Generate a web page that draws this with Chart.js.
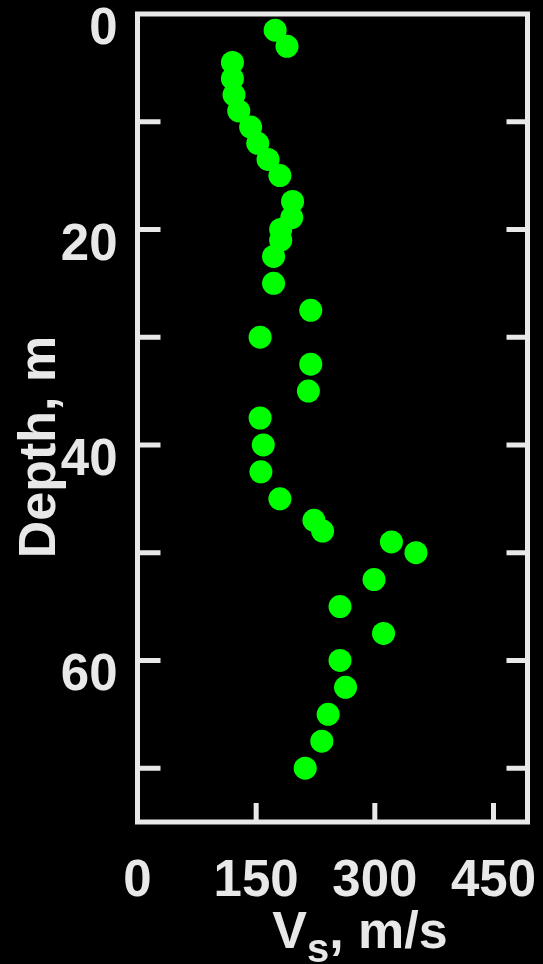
<!DOCTYPE html>
<html>
<head>
<meta charset="utf-8">
<script src="https://cdn.jsdelivr.net/npm/chart.js@4"></script>
<style>
  html, body { margin: 0; padding: 0; background: #000; }
  canvas { display: block; }
</style>
</head>
<body>
<canvas id="vsChart" width="543" height="964"></canvas>
<script>
// depth (m) and shear wave velocity (m/s)
const depths = [1.5, 3, 4.5, 6, 7.5, 9, 10.5, 12, 13.5, 15, 17.4, 18.9, 20, 21, 22.5, 25,
    27.5, 30, 32.5, 35, 37.5, 40, 42.5, 45, 47, 48, 49, 50, 52.5, 55, 57.5, 60, 62.5, 65, 67.5, 70];
const velocities = [174, 189, 120, 120, 122, 128, 143, 152, 165, 180, 196, 195, 181, 181, 172, 172,
    219, 155, 219, 216, 155, 159, 156, 180, 223, 234, 321, 352, 299, 256, 311, 256, 263, 241, 233, 212];

const xTicks = [0, 150, 300, 450];
const yTicks = [10, 20, 30, 40, 50, 60, 70];
const yLabels = [0, 20, 40, 60];

const white = '#e8e8e8';
const green = '#00ff00';

// frame with inward tick marks on left, right and bottom
const framePlugin = {
    id: 'frame',
    afterDraw(chart) {
        const { ctx, chartArea: a, scales } = chart;
        ctx.save();
        ctx.strokeStyle = white;
        ctx.lineWidth = 5;
        ctx.lineCap = 'butt';
        ctx.beginPath();
        yTicks.forEach(v => {
            const y = scales.y.getPixelForValue(v);
            ctx.moveTo(a.left, y); ctx.lineTo(a.left + 23, y);
            ctx.moveTo(a.right, y); ctx.lineTo(a.right - 21, y);
        });
        xTicks.forEach(v => {
            if (v === 0) return;
            const x = scales.x.getPixelForValue(v);
            ctx.moveTo(x, a.bottom); ctx.lineTo(x, a.bottom - 19);
        });
        ctx.stroke();
        ctx.strokeRect(a.left, a.top, a.right - a.left, a.bottom - a.top);

        // axis titles
        ctx.fillStyle = white;
        ctx.textBaseline = 'alphabetic';
        ctx.font = 'bold 52px "Liberation Sans", Arial, sans-serif';
        ctx.save();
        ctx.translate(55, 447);
        ctx.rotate(-Math.PI / 2);
        ctx.textAlign = 'center';
        ctx.fillText('Depth, m', 0, 0);
        ctx.restore();

        ctx.textAlign = 'left';
        const big = 'bold 52px "Liberation Sans", Arial, sans-serif';
        const small = 'bold 40px "Liberation Sans", Arial, sans-serif';
        ctx.font = big;
        const wV = ctx.measureText('V').width;
        const wRest = ctx.measureText(', m/s').width;
        ctx.font = small;
        const wS = ctx.measureText('s').width;
        let x = 360 - (wV + wS + wRest) / 2;
        ctx.font = big;
        ctx.fillText('V', x, 948);
        x += wV;
        ctx.font = small;
        ctx.fillText('s', x, 962);
        x += wS;
        ctx.font = big;
        ctx.fillText(', m/s', x, 948);
        ctx.restore();
    }
};

const tickFont = { family: '"Liberation Sans", Arial, sans-serif', size: 51, weight: 'bold' };

new Chart(document.getElementById('vsChart').getContext('2d'), {
    type: 'scatter',
    data: {
        datasets: [{
            data: depths.map((d, i) => ({ x: velocities[i], y: d })),
            backgroundColor: green,
            borderWidth: 0,
            pointRadius: 11.5,
            pointHoverRadius: 11.5
        }]
    },
    options: {
        responsive: false,
        animation: false,
        events: [],
        layout: { padding: { top: 14, right: 15.5, left: 0, bottom: 0 } },
        plugins: {
            legend: { display: false },
            tooltip: { enabled: false }
        },
        scales: {
            x: {
                type: 'linear',
                position: 'bottom',
                min: 0,
                max: 493,
                grid: { display: false, drawTicks: false },
                border: { display: false },
                afterBuildTicks: s => { s.ticks = xTicks.map(v => ({ value: v })); },
                afterFit: s => { s.height = 142; s.paddingLeft = 0; s.paddingRight = 0; },
                ticks: {
                    color: white,
                    font: tickFont,
                    padding: 29,
                    maxRotation: 0,
                    autoSkip: false
                }
            },
            y: {
                type: 'linear',
                reverse: true,
                min: 0,
                max: 75,
                grid: { display: false, drawTicks: false },
                border: { display: false },
                afterBuildTicks: s => { s.ticks = yLabels.map(v => ({ value: v })); },
                afterFit: s => { s.width = 137.5; s.paddingTop = 0; s.paddingBottom = 0; },
                ticks: {
                    color: white,
                    font: tickFont,
                    padding: 20,
                    labelOffset: 16,
                    autoSkip: false
                }
            }
        }
    },
    plugins: [framePlugin]
});
</script>
</body>
</html>
